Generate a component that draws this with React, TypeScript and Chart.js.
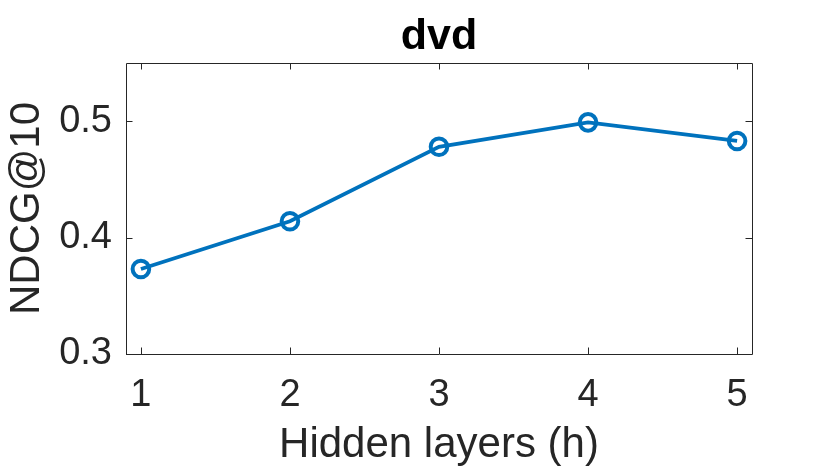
import React, { useEffect, useRef } from 'react';
import { Chart, registerables } from 'chart.js';

Chart.register(...registerables);

// ---- data ----
const layers = [1, 2, 3, 4, 5];
const ndcg = [0.373, 0.414, 0.478, 0.499, 0.483];
const xTicks = [1, 2, 3, 4, 5];
const yTicks = [0.3, 0.4, 0.5];
const titleText = 'dvd';
const xLabel = 'Hidden layers (h)';
const yLabel = 'NDCG@10';

const FAMILY = '"Liberation Sans", Arial, Helvetica, sans-serif';
const AXIS_COLOR = '#262626';
const LINE_COLOR = '#0072BD';

const framePlugin = {
  id: 'matlabFrame',
  beforeDatasetsDraw(chart: any) {
    const { ctx, chartArea } = chart;
    const { left, right, top, bottom } = chartArea;
    const xs = chart.scales.x;
    const ys = chart.scales.y;
    const tl = 6.5;
    ctx.save();
    ctx.strokeStyle = AXIS_COLOR;
    ctx.lineWidth = 1;
    ctx.beginPath();
    ctx.rect(Math.round(left) + 0.5, Math.round(top) + 0.5, Math.round(right - left), Math.round(bottom - top));
    xTicks.forEach((v) => {
      const px = Math.round(xs.getPixelForValue(v)) + 0.5;
      ctx.moveTo(px, bottom);
      ctx.lineTo(px, bottom - tl);
      ctx.moveTo(px, top);
      ctx.lineTo(px, top + tl);
    });
    yTicks.forEach((v) => {
      const py = Math.round(ys.getPixelForValue(v)) + 0.5;
      ctx.moveTo(left, py);
      ctx.lineTo(left + tl, py);
      ctx.moveTo(right, py);
      ctx.lineTo(right - tl, py);
    });
    ctx.stroke();
    ctx.restore();
  },
  afterDraw(chart: any) {
    const { ctx, chartArea } = chart;
    ctx.save();
    ctx.fillStyle = '#000000';
    ctx.font = `bold 43px ${FAMILY}`;
    ctx.textAlign = 'center';
    ctx.textBaseline = 'alphabetic';
    ctx.fillText(titleText, (chartArea.left + chartArea.right) / 2, 49);
    ctx.restore();
  },
};

export default function App() {
  const ref = useRef<HTMLCanvasElement | null>(null);

  useEffect(() => {
    if (!ref.current) return;
    const chart = new Chart(ref.current, {
      type: 'line',
      data: {
        datasets: [
          {
            data: layers.map((x, i) => ({ x, y: ndcg[i] })),
            borderColor: LINE_COLOR,
            borderWidth: 3.8,
            pointRadius: 8.3,
            pointBorderWidth: 4,
            pointBorderColor: LINE_COLOR,
            pointBackgroundColor: 'rgba(0,0,0,0)',
            tension: 0,
            fill: false,
          },
        ],
      },
      options: {
        animation: false,
        responsive: false,
        events: [],
        layout: { padding: { top: 63, right: 78, left: 0, bottom: 0 } },
        plugins: {
          legend: { display: false },
          tooltip: { enabled: false },
          title: { display: false },
        },
        scales: {
          x: {
            type: 'linear',
            min: 0.9,
            max: 5.1,
            afterBuildTicks: (s: any) => {
              s.ticks = xTicks.map((v) => ({ value: v }));
            },
            afterFit: (s: any) => {
              s.height = 113;
            },
            grid: { display: false, drawTicks: false },
            border: { display: false },
            ticks: {
              color: AXIS_COLOR,
              font: { size: 38, family: FAMILY },
              padding: 19,
              maxRotation: 0,
              autoSkip: false,
              callback: (v: any) => String(v),
            },
            title: {
              display: true,
              text: xLabel,
              color: AXIS_COLOR,
              font: { size: 42, family: FAMILY, lineHeight: 1 },
              padding: { top: 0, bottom: 1 },
            },
          },
          y: {
            type: 'linear',
            min: 0.3,
            max: 0.55,
            afterBuildTicks: (s: any) => {
              s.ticks = yTicks.map((v) => ({ value: v }));
            },
            afterFit: (s: any) => {
              s.width = 126;
            },
            grid: { display: false, drawTicks: false },
            border: { display: false },
            ticks: {
              color: AXIS_COLOR,
              font: { size: 38, family: FAMILY },
              padding: 14,
              autoSkip: false,
              callback: (v: any) => Number(v).toFixed(1),
            },
            title: {
              display: true,
              text: yLabel,
              color: AXIS_COLOR,
              font: { size: 42, family: FAMILY, lineHeight: 1 },
              padding: { top: 6, bottom: 0 },
            },
          },
        },
      },
      plugins: [framePlugin],
    });
    return () => chart.destroy();
  }, []);

  return (
    <div style={{ position: 'fixed', left: 0, top: 0, width: 830, height: 467, background: '#ffffff' }}>
      <canvas ref={ref} width={830} height={467} />
    </div>
  );
}
